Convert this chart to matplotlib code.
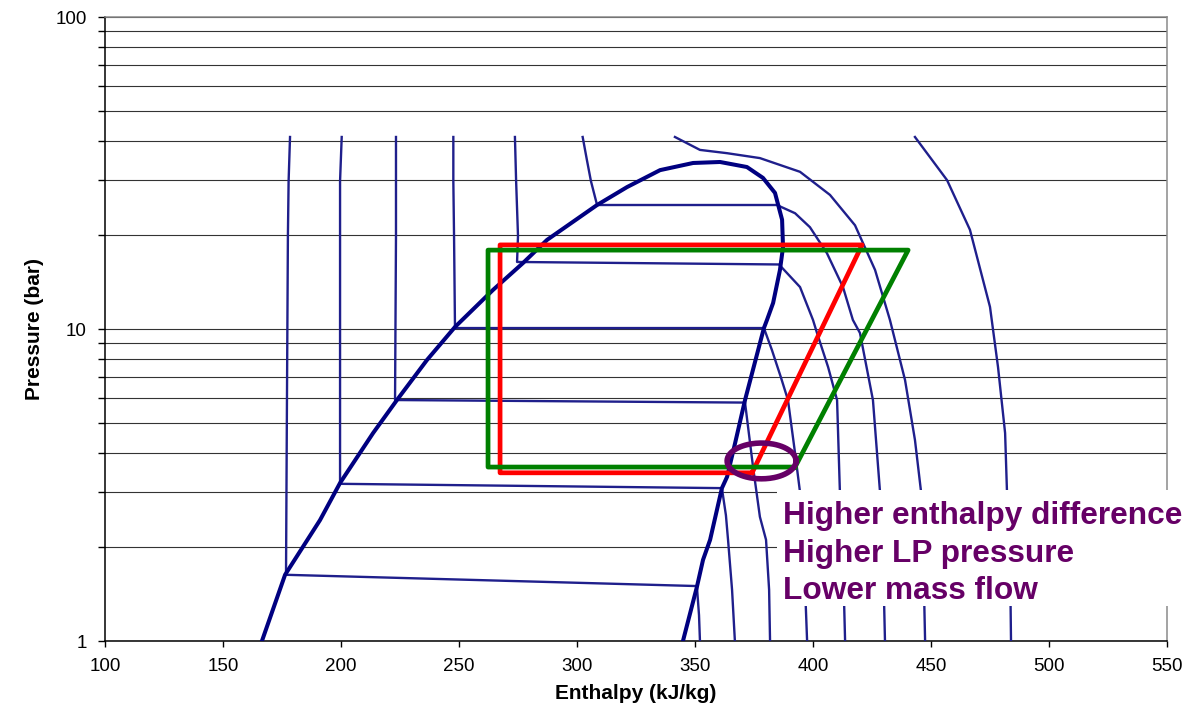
import numpy as np
import matplotlib
matplotlib.use("Agg")
import matplotlib.pyplot as plt
from matplotlib.patches import Rectangle
from matplotlib.ticker import FixedLocator, NullFormatter

plt.rcParams['font.family'] = ['Liberation Sans', 'DejaVu Sans']

# ---------------- data (enthalpy kJ/kg, pressure bar) ----------------
dome_h = [166.5, 176.3, 191.1, 199.6, 213.6, 223.7, 236.4, 248.3, 264.4, 277.1, 287.3,
          308.5, 321.2, 335.2, 349.2, 360.6, 372.0, 378.8, 383.9, 386.9, 387.3, 386.0,
          383.1, 380.5, 379.2, 371.2, 367.0, 363.6, 361.4, 356.4, 353.4, 350.8, 344.9]
dome_p = [1.00, 1.63, 2.44, 3.21, 4.64, 5.92, 7.95, 10.15, 13.34, 16.27, 19.3,
          24.97, 28.5, 32.3, 34.05, 34.3, 33.05, 30.5, 27.3, 22.4, 18.3, 15.46,
          12.12, 10.69, 10.07, 5.92, 4.31, 3.36, 3.09, 2.11, 1.82, 1.49, 1.00]

iso1_h = [178.4, 177.8, 177.5, 177.1, 176.7, 350.8, 351.7, 352.1]
iso1_p = [41.25, 29.8, 19.87, 5.92, 1.63, 1.50, 1.21, 1.00]

iso2_h = [200.3, 199.6, 199.6, 199.6, 199.6, 361.4, 363.1, 364.0, 365.7, 366.9]
iso2_p = [41.25, 29.8, 19.87, 5.92, 3.19, 3.09, 2.53, 2.11, 1.46, 1.00]

iso3_h = [223.3, 223.3, 223.3, 222.9, 371.2, 374.6, 377.5, 380.1, 381.4, 381.8]
iso3_p = [41.25, 29.8, 19.87, 5.92, 5.81, 3.61, 2.50, 2.11, 1.46, 1.00]

iso4_h = [247.6, 247.6, 247.9, 248.3, 379.2, 382.6, 386.4, 389.4, 392.4, 394.5, 396.2, 397.5]
iso4_p = [41.25, 29.8, 19.87, 10.07, 10.07, 8.56, 7.0, 5.92, 4.0, 3.0, 1.82, 1.00]

iso5_h = [273.7, 274.2, 275.0, 274.6, 385.6, 394.5, 400.0, 401.7, 406.4, 410.2, 411.4, 412.7, 413.6]
iso5_p = [41.25, 29.8, 19.87, 16.4, 16.1, 13.63, 10.69, 9.71, 7.55, 5.92, 3.0, 1.82, 1.00]

iso6_h = [302.4, 304.2, 305.9, 308.5, 384.7, 392.4, 398.7, 405.9, 412.7, 416.9, 419.9,
          425.4, 428.4, 429.7, 430.5]
iso6_p = [41.25, 34.8, 29.8, 24.97, 24.97, 23.5, 21.2, 17.5, 13.63, 10.69, 9.71,
          5.92, 3.0, 1.82, 1.00]

iso7_h = [341.5, 352.1, 363.6, 377.5, 394.5, 407.2, 417.8, 426.3, 432.6, 439.0, 443.2,
          446.2, 447.5]
iso7_p = [41.25, 37.5, 36.6, 35.3, 31.9, 26.9, 21.5, 15.46, 10.69, 6.86, 4.41,
          2.83, 1.00]

iso8_h = [443.2, 456.8, 466.5, 475.0, 478.4, 481.4, 482.2, 483.5, 483.9]
iso8_p = [41.25, 30.0, 20.8, 11.77, 7.55, 4.64, 3.0, 1.82, 1.00]

red_h = [374.2, 267.4, 267.4, 420.8, 374.2]
red_p = [3.46, 3.46, 18.6, 18.6, 3.46]

green_h = [392.4, 262.3, 262.3, 440.3, 392.4]
green_p = [3.61, 3.61, 17.9, 17.9, 3.61]

# highlight ellipse: centre enthalpy, half-width (kJ/kg), pressure range (bar)
ell_h_center = 378.2
ell_h_halfwidth = 14.6
ell_p_low, ell_p_high = 3.31, 4.31

notes = ["Higher enthalpy difference", "Higher LP pressure", "Lower mass flow"]

x_ticks = [100, 150, 200, 250, 300, 350, 400, 450, 500, 550]
y_major = [1, 10, 100]
y_minor = [2, 3, 4, 5, 6, 7, 8, 9, 20, 30, 40, 50, 60, 70, 80, 90]

# ---------------- figure ----------------
W, H = 1197, 714
fig = plt.figure(figsize=(W / 100, H / 100), dpi=100)
ax = fig.add_axes([105 / W, 73 / H, 1062 / W, 624 / H])
ax.set_yscale('log')
ax.set_xlim(100, 550)
ax.set_ylim(1, 100)

ax.yaxis.set_major_locator(FixedLocator(y_major))
ax.yaxis.set_minor_locator(FixedLocator(y_minor))
ax.yaxis.set_minor_formatter(NullFormatter())
ax.set_yticklabels([str(v) for v in y_major])
ax.set_xticks(x_ticks)
ax.set_xticklabels([str(v) for v in x_ticks])

ax.yaxis.grid(True, which='both', color='#333333', linewidth=0.8)
ax.set_axisbelow(True)

ax.tick_params(axis='both', which='both', direction='out', length=5, width=1.0,
               color='black', labelsize=13.5, pad=8)
ax.tick_params(axis='x', length=4.5)
for s in ['left', 'bottom']:
    ax.spines[s].set_color('black')
    ax.spines[s].set_linewidth(1.1)
for s in ['top', 'right']:
    ax.spines[s].set_color('#8a8a8a')
    ax.spines[s].set_linewidth(1.1)

ax.set_xlabel('Enthalpy (kJ/kg)', fontsize=15, fontweight='bold', labelpad=6)
ax.set_ylabel('Pressure (bar)', fontsize=15, fontweight='bold', labelpad=8)

iso_color = '#1f1f8c'
for hh, pp in [(iso1_h, iso1_p), (iso2_h, iso2_p), (iso3_h, iso3_p), (iso4_h, iso4_p),
               (iso5_h, iso5_p), (iso6_h, iso6_p), (iso7_h, iso7_p), (iso8_h, iso8_p)]:
    ax.plot(hh, pp, color=iso_color, linewidth=1.7, solid_joinstyle='round', zorder=3)

ax.plot(dome_h, dome_p, color='#000080', linewidth=2.9, solid_joinstyle='round', zorder=4)

ax.plot(red_h, red_p, color='#ff0000', linewidth=3.4, zorder=5)
ax.plot(green_h, green_p, color='#008000', linewidth=3.4, zorder=6)

t = np.linspace(0, 2 * np.pi, 200)
lc = (np.log10(ell_p_low) + np.log10(ell_p_high)) / 2
lr = (np.log10(ell_p_high) - np.log10(ell_p_low)) / 2
ax.plot(ell_h_center + ell_h_halfwidth * np.cos(t), 10 ** (lc + lr * np.sin(t)),
        color='#660066', linewidth=4.0, zorder=7)

# white note box over the lower right corner
box = Rectangle((777 / W, 108 / H), (W - 777) / W, 116 / H, transform=fig.transFigure,
                facecolor='white', edgecolor='none', zorder=5)
fig.patches.append(box)
for i, s in enumerate(notes):
    fig.text(783 / W, (H - 524 - i * 37.7) / H, s, fontsize=22.8, fontweight='bold',
             color='#660066', va='baseline', ha='left', zorder=6)

fig.savefig('out.png', dpi=100)
